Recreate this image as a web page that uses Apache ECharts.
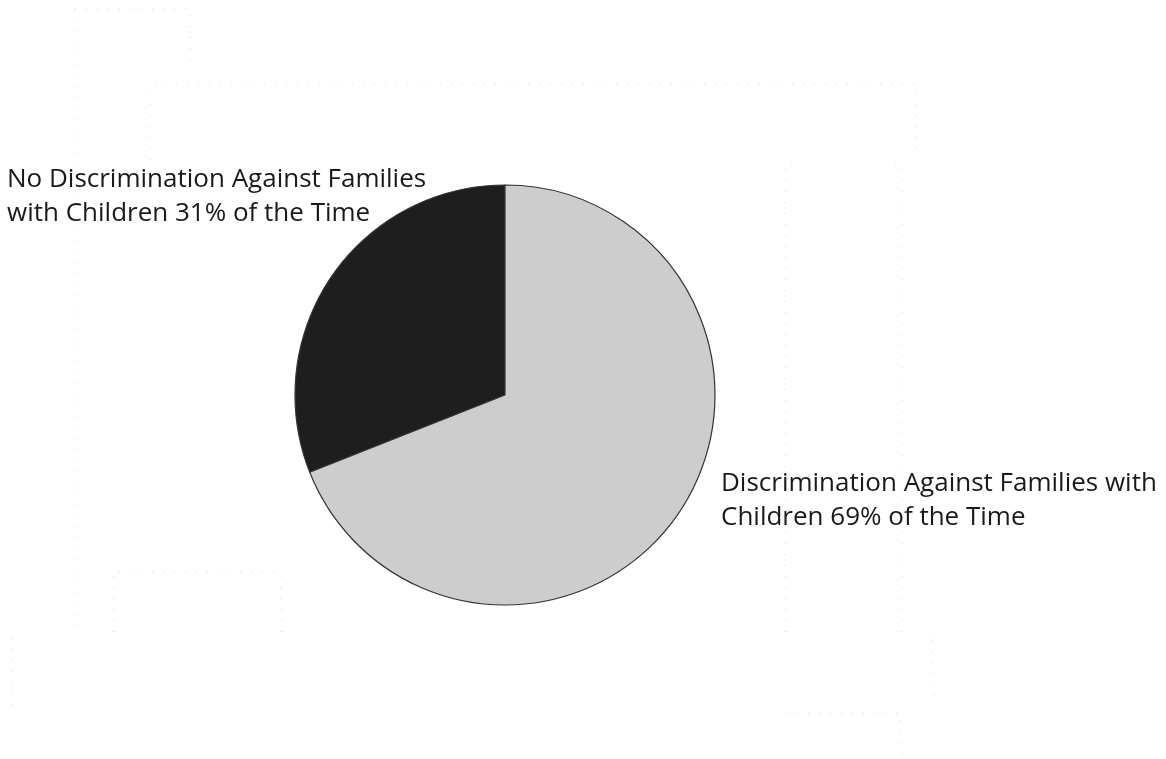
<!DOCTYPE html>
<html>
<head>
<meta charset="utf-8">
<script src="https://cdn.jsdelivr.net/npm/echarts@6/dist/echarts.min.js"></script>
<style>
html,body{margin:0;padding:0;background:#fff;}
#chart{width:1166px;height:759px;}
</style>
</head>
<body>
<div id="chart"></div>
<script>
// Data
var categories = [
  'No Discrimination Against Families\nwith Children 31% of the Time',
  'Discrimination Against Families with\nChildren 69% of the Time'
];
var values = [31, 69];
var sliceColors = ['#1e1e1e', '#cdcdcd'];

// Faint dotted background guide lines (decoration from the source image)
var guideLines = [
  [[75, 9], [75, 632]],
  [[75, 9], [190, 9], [191, 70]],
  [[150, 160], [150, 88], [163, 83], [915, 84], [916, 155]],
  [[192, 233], [192, 558]],
  [[113, 632], [113, 572], [280, 572], [282, 632]],
  [[12, 705], [12, 632], [932, 632], [934, 702]],
  [[785, 632], [785, 165], [792, 165]],
  [[895, 165], [902, 165], [902, 632]],
  [[784, 755], [784, 713], [900, 713], [902, 755]]
];

var chart = echarts.init(document.getElementById('chart'), null, {renderer: 'canvas'});

var graphics = guideLines.map(function (pts) {
  return {
    type: 'polyline',
    silent: true,
    z: -10,
    shape: {points: pts},
    style: {stroke: '#dadada', lineWidth: 1, lineDash: [1, 10], fill: null}
  };
});

var labelPos = [
  {x: 7, y: 197},
  {x: 721, y: 501}
];

chart.setOption({
  animation: false,
  backgroundColor: '#ffffff',
  graphic: graphics,
  series: [{
    type: 'pie',
    center: [505, 395],
    radius: 210,
    startAngle: 90,
    clockwise: false,
    silent: true,
    data: categories.map(function (c, i) {
      return {name: c, value: values[i], itemStyle: {color: sliceColors[i]}};
    }),
    itemStyle: {borderColor: '#333333', borderWidth: 1.2},
    label: {
      show: true,
      position: 'outside',
      formatter: '{b}',
      fontFamily: 'Open Sans',
      fontSize: 26,
      lineHeight: 34,
      color: '#1a1a1a',
      align: 'left',
      overflow: 'none',
      width: 500
    },
    labelLine: {show: false},
    labelLayout: function (params) {
      var p = labelPos[params.dataIndex];
      return {x: p.x, y: p.y, align: 'left', verticalAlign: 'middle', hideOverlap: false, moveOverlap: false};
    }
  }]
});
</script>
</body>
</html>
